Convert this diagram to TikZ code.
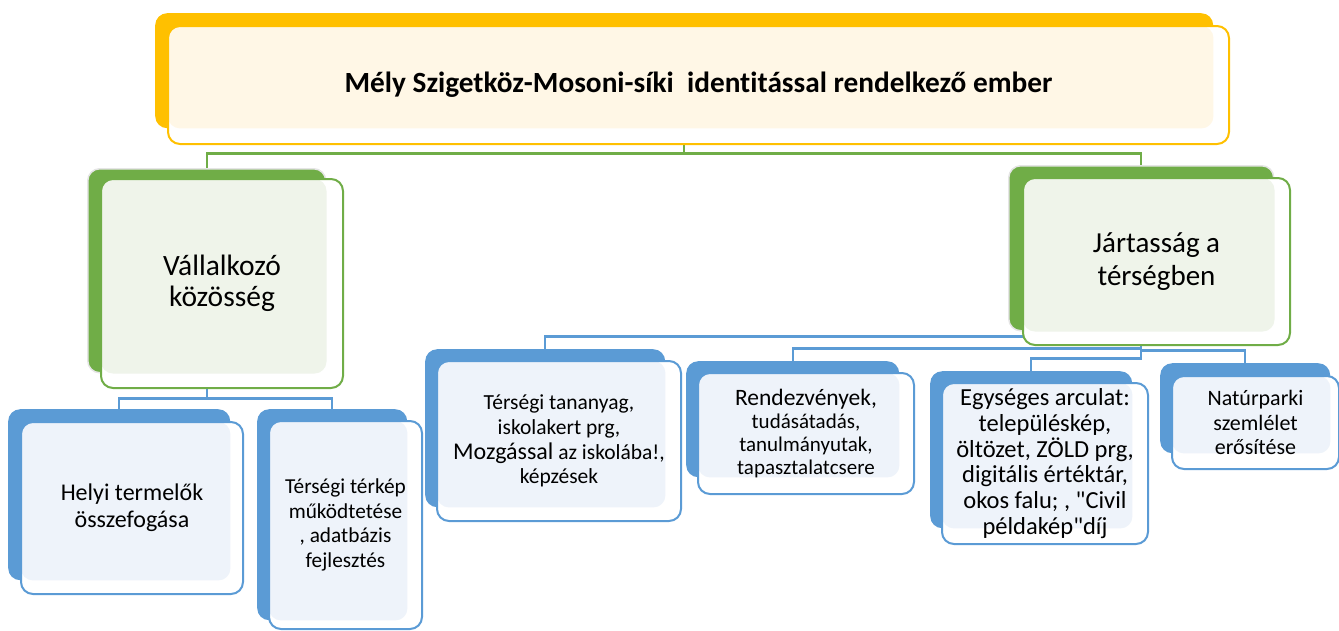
\documentclass[tikz,border=0pt]{standalone}
\usepackage{fontspec}
\setmainfont{Carlito}[Ligatures={TeXOff,NoCommon}]
\definecolor{gold}{HTML}{FFC000}
\definecolor{cream}{HTML}{FFF7E6}
\definecolor{grn}{HTML}{70AD47}
\definecolor{grnlight}{HTML}{EFF4EA}
\definecolor{blu}{HTML}{5B9BD5}
\definecolor{blulight}{HTML}{EEF3FA}
\tikzset{
	box/.style={rounded corners=12pt, inner sep=0pt, anchor=north west, align=center},
	backbox/.style={box, fill=#1},
	% border colour, light colour, name of the back box
	frontbox/.style n args={3}{box, draw=#1, line width=2pt, fill=white,
		path picture={\fill[#2, rounded corners=12pt] (path picture bounding box.north west) rectangle (#3.south east);}},
	gline/.style={draw=grn, line width=2.4pt},
	bline/.style={draw=blu, line width=2.4pt},
}
\begin{document}
\begin{tikzpicture}[x=1pt,y=-1pt]
	\useasboundingbox (0,0) rectangle (1339,630);

	% back boxes
	\node[backbox=gold, minimum width=1058pt, minimum height=115pt] (topb) at (155,13) {};
	\node[backbox=grn, draw=gray!20, line width=1.5pt, minimum width=238pt, minimum height=204pt] (vb) at (87,168) {};
	\node[backbox=grn, draw=gray!20, line width=1.5pt, minimum width=265pt, minimum height=165pt] (jb) at (1008,165) {};
	\node[backbox=blu, minimum width=222pt, minimum height=171pt] (hb) at (8,409) {};
	\node[backbox=blu, minimum width=150pt, minimum height=211pt] (kb) at (257,409) {};
	\node[backbox=blu, minimum width=240pt, minimum height=158pt] (tb) at (425,349) {};
	\node[backbox=blu, minimum width=213pt, minimum height=116pt] (rb) at (686,361) {};
	\node[backbox=blu, minimum width=202pt, minimum height=157pt] (eb) at (930,371) {};
	\node[backbox=blu, minimum width=170pt, minimum height=90pt] (nb) at (1160,363) {};

	% connectors
	\draw[gline] (topb.south) -- ++(0,25) -| (vb.north);
	\draw[gline] (topb.south) -- ++(0,25) -| (jb.north);
	\draw[bline] (vb.south) -- ++(0,25) -| (hb.north);
	\draw[bline] (vb.south) -- ++(0,25) -| (kb.north);
	\draw[bline] (jb.south) |- ([yshift=12.5pt]tb.north) -- (tb.north);
	\draw[bline] (jb.south) |- ([yshift=12.5pt]rb.north) -- (rb.north);
	\draw[bline] (jb.south) |- ([yshift=12.5pt]eb.north) -- (eb.north);
	\draw[bline] (jb.south) |- ([yshift=12.5pt]nb.north) -- (nb.north);

	% front boxes
	\node[frontbox={gold}{cream}{topb}, minimum width=1061pt, minimum height=118pt,
		font=\bfseries\fontsize{29.3}{34}\selectfont] (top) at (167,25)
		{Mély Szigetköz-Mosoni-síki\ \ identitással rendelkező ember};
	\node[frontbox={grn}{grnlight}{vb}, minimum width=242pt, minimum height=209pt,
		font=\fontsize{29.5}{31.5}\selectfont] (v) at (100,178) {Vállalkozó\\közösség};
	\node[frontbox={grn}{grnlight}{jb}, minimum width=267pt, minimum height=167pt,
		font=\fontsize{29}{33}\selectfont] (j) at (1022,177) {Jártasság a\\térségben};
	\node[frontbox={blu}{blulight}{hb}, minimum width=222pt, minimum height=172pt,
		font=\fontsize{24}{27}\selectfont] (h) at (20,421) {Helyi termelők\\összefogása};
	\node[frontbox={blu}{blulight}{kb}, minimum width=153pt, minimum height=208pt,
		font=\fontsize{21.3}{24.5}\selectfont] (k) at (268,420)
		{Térségi térkép\\működtetése\\, adatbázis\\fejlesztés};
	\node[frontbox={blu}{blulight}{tb}, minimum width=244pt, minimum height=160pt,
		font=\fontsize{21.5}{24.7}\selectfont] (t) at (436,360)
		{Térségi tananyag,\\iskolakert prg,\\{\fontsize{24}{24.7}\selectfont Mozgással} az iskolába!,\\képzések};
	\node[frontbox={blu}{blulight}{rb}, minimum width=216pt, minimum height=121pt,
		font=\fontsize{21}{22.8}\selectfont] (r) at (697,372)
		{{\fontsize{23.5}{22.8}\selectfont Rendezvények,}\\tudásátadás,\\tanulmányutak,\\tapasztalatcsere};
	\node[frontbox={blu}{blulight}{eb}, minimum width=206pt, minimum height=161pt,
		font=\fontsize{24.5}{25.8}\selectfont] (e) at (941,382)
		{Egységes arculat:\\településkép,\\öltözet, ZÖLD prg,\\digitális értéktár,\\okos falu; , "Civil\\példakép"díj};
	\node[frontbox={blu}{blulight}{nb}, minimum width=167pt, minimum height=93pt,
		font=\fontsize{22}{24.3}\selectfont] (n) at (1171,375)
		{Natúrparki\\szemlélet\\erősítése};
\end{tikzpicture}
\end{document}
